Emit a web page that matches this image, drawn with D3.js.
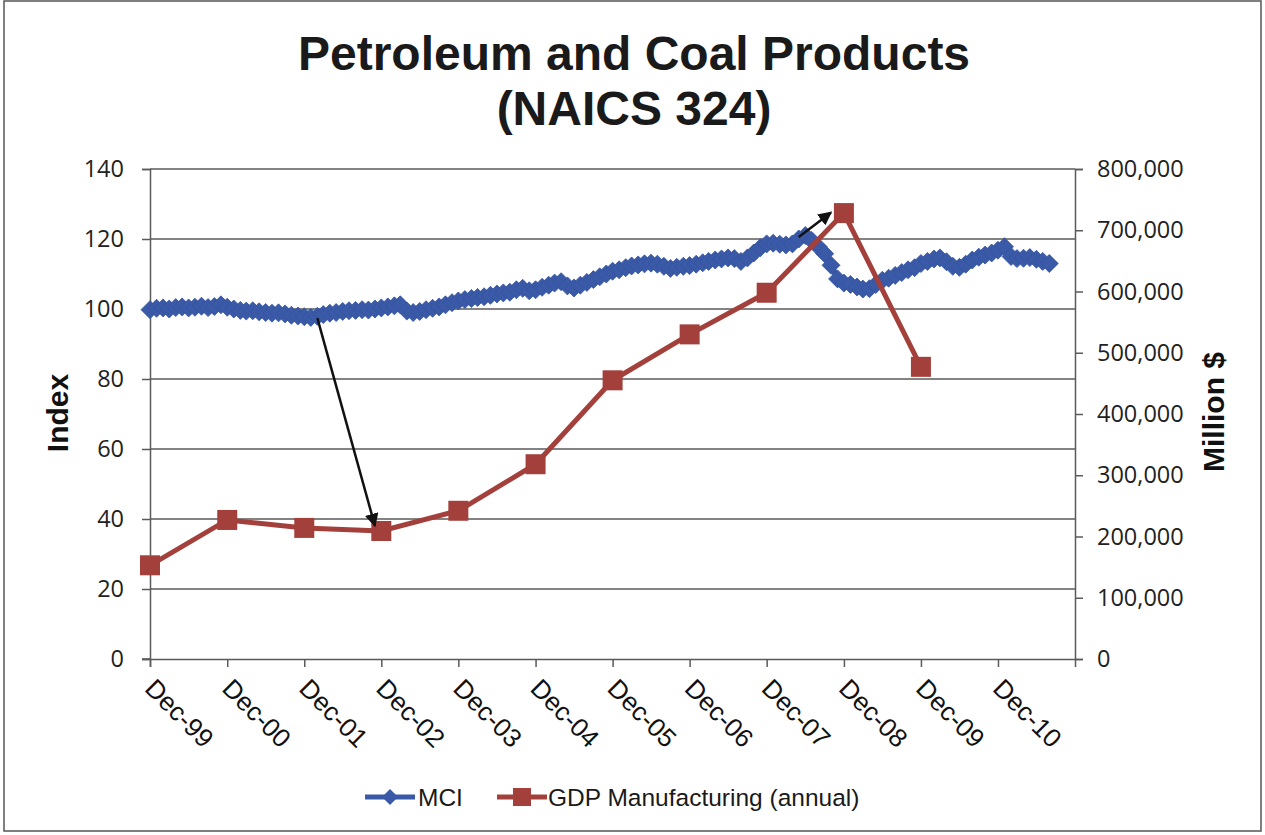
<!DOCTYPE html>
<html>
<head>
    <title>Petroleum and Coal Products</title>
    <meta charset="UTF-8">
    <script type="text/javascript" src="https://cdn.jsdelivr.net/npm/d3@7/dist/d3.min.js"></script>
    <style>
        body { margin: 0; background: #fff; }
        svg { display: block; }
    </style>
</head>
<body>
<svg class="chart" width="1265" height="835"></svg>
<script type="text/javascript">
    // MCI monthly index, Dec-99 .. Aug-11
    var mciStart = "1999-12";
    var mciValues = [
        99.8, 100.2, 100.3, 100.0, 100.4, 100.6, 100.3, 100.5, 100.8, 100.4, 100.7, 101.2,
        100.5, 100.0, 99.6, 99.4, 99.5, 99.2, 99.0, 98.8, 98.9, 98.6, 98.2, 98.0,
        97.8, 97.6, 97.9, 98.4, 98.8, 99.0, 99.3, 99.5, 99.6, 99.8, 99.7, 100.0,
        100.3, 100.6, 100.9, 101.2, 99.4, 99.0, 99.3, 99.8, 100.2, 100.6, 101.2, 101.8,
        102.3, 102.7, 103.0, 103.3, 103.5, 103.9, 104.3, 104.6, 104.8, 105.5, 105.9, 105.2,
        105.5, 106.2, 106.8, 107.4, 107.8, 106.6, 106.0, 106.8, 107.6, 108.4, 109.2, 110.0,
        110.8, 111.2, 111.8, 112.3, 112.6, 112.9, 113.1, 112.8, 112.2, 111.6, 111.9, 112.2,
        112.4, 112.8, 113.2, 113.6, 114.0, 114.3, 114.6, 114.4, 113.6, 114.6, 116.0, 117.5,
        118.6, 118.8, 118.5, 118.3, 118.6, 120.0, 121.0, 119.6, 117.8, 115.8, 112.5, 108.6,
        107.4, 107.0, 106.3, 105.7, 105.8, 107.0, 108.2, 108.8, 109.6, 110.4, 111.2, 111.8,
        113.0, 113.6, 114.3, 114.6, 113.5, 112.2, 111.9, 112.8, 114.0, 114.8, 115.4, 116.0,
        116.8, 117.8, 115.0, 114.4, 114.5, 114.7, 114.2, 113.6, 113.0
    ];

    // GDP manufacturing, annual (million $)
    var gdpDates = ["1999-12", "2000-12", "2001-12", "2002-12", "2003-12", "2004-12",
        "2005-12", "2006-12", "2007-12", "2008-12", "2009-12"];
    var gdpValues = [153000, 227000, 214000, 209000, 242000, 318000,
        455000, 530000, 598000, 728000, 477000];

    // axis ticks
    var xTickDates = ["1999-12", "2000-12", "2001-12", "2002-12", "2003-12", "2004-12",
        "2005-12", "2006-12", "2007-12", "2008-12", "2009-12", "2010-12"];
    var leftTicks = [0, 20, 40, 60, 80, 100, 120, 140];
    var rightTicks = [0, 100000, 200000, 300000, 400000, 500000, 600000, 700000, 800000];

    // annotation arrows: [from date, from index, to date, to index]
    var arrows = [
        ["2002-02", 97.4, "2002-11", 38.0],
        ["2008-05", 120.6, "2008-10", 127.6]
    ];

    var parseMonth = d3.timeParse("%Y-%m");
    var fmtTick = d3.timeFormat("%b-%y");

    var mciDates = d3.timeMonth.range(parseMonth(mciStart),
        d3.timeMonth.offset(parseMonth(mciStart), mciValues.length));
    var mci = mciValues.map(function (v, i) { return {date: mciDates[i], value: v}; });
    var gdp = gdpValues.map(function (v, i) { return {date: parseMonth(gdpDates[i]), value: v}; });

    var blue = "#3A5AA8";
    var red = "#A4403B";
    var plotLeft = 150, plotRight = 1075, plotTop = 169, plotBottom = 659;

    var svg = d3.select(".chart");

    svg.append("rect")
        .attr("x", 4).attr("y", 1)
        .attr("width", 1257).attr("height", 830)
        .attr("fill", "none").attr("stroke", "#555").attr("stroke-width", 1.5);

    var x = d3.scaleTime()
        .domain([parseMonth("1999-12"), parseMonth("2011-12")])
        .range([plotLeft, plotRight]);
    var yLeft = d3.scaleLinear().domain([0, 140]).range([plotBottom, plotTop]);
    var yRight = d3.scaleLinear().domain([0, 800000]).range([plotBottom, plotTop]);

    // title
    svg.append("text")
        .attr("x", 634).attr("y", 70)
        .attr("text-anchor", "middle")
        .style("font", "bold 48px 'Liberation Sans', Arial, sans-serif")
        .attr("fill", "#1a1a1a")
        .text("Petroleum and Coal Products");
    svg.append("text")
        .attr("x", 634).attr("y", 125)
        .attr("text-anchor", "middle")
        .style("font", "bold 48px 'Liberation Sans', Arial, sans-serif")
        .attr("fill", "#1a1a1a")
        .text("(NAICS 324)");

    // gridlines
    svg.append("g")
        .selectAll("line")
        .data(leftTicks.filter(function (d) { return d > 0; }))
        .enter()
        .append("line")
        .attr("x1", plotLeft).attr("x2", plotRight)
        .attr("y1", function (d) { return yLeft(d); })
        .attr("y2", function (d) { return yLeft(d); })
        .attr("stroke", "#5a5a5a").attr("stroke-width", 1.5);

    // left axis
    var leftAxis = svg.append("g")
        .attr("transform", "translate(" + plotLeft + ",0)")
        .call(d3.axisLeft(yLeft).tickValues(leftTicks).tickSize(8).tickPadding(18));
    // right axis
    var rightAxis = svg.append("g")
        .attr("transform", "translate(" + plotRight + ",0)")
        .call(d3.axisRight(yRight).tickValues(rightTicks).tickSize(8).tickPadding(14)
            .tickFormat(d3.format(",")));
    [leftAxis, rightAxis].forEach(function (ax) {
        ax.selectAll("text")
            .style("font", "23.5px 'Open Sans', sans-serif")
            .attr("fill", "#222");
    });

    // bottom axis
    var bottomAxis = svg.append("g")
        .attr("transform", "translate(0," + plotBottom + ")")
        .call(d3.axisBottom(x)
            .tickValues(xTickDates.map(parseMonth))
            .tickSize(8)
            .tickFormat(fmtTick));
    bottomAxis.selectAll("text")
        .attr("text-anchor", "start")
        .attr("dy", 0).attr("y", 0)
        .attr("transform", "translate(-7,31) rotate(45)")
        .style("font", "26px 'Liberation Sans', Arial, sans-serif")
        .attr("fill", "#111");
    bottomAxis.append("line")
        .attr("x1", plotLeft - 8).attr("x2", plotLeft)
        .attr("stroke", "#5a5a5a").attr("stroke-width", 1.5);

    svg.selectAll(".domain, .tick line")
        .attr("stroke", "#5a5a5a").attr("stroke-width", 1.5);

    // axis titles
    svg.append("text")
        .attr("transform", "translate(68,413) rotate(-90)")
        .attr("text-anchor", "middle")
        .style("font", "bold 30px 'Liberation Sans', Arial, sans-serif")
        .attr("fill", "#111")
        .text("Index");
    svg.append("text")
        .attr("transform", "translate(1224,412) rotate(-90)")
        .attr("text-anchor", "middle")
        .style("font", "bold 30px 'Liberation Sans', Arial, sans-serif")
        .attr("fill", "#111")
        .text("Million $");

    function diamondPath(r) {
        return "M0," + (-r) + "L" + r + ",0L0," + r + "L" + (-r) + ",0Z";
    }

    // MCI series
    svg.append("path")
        .datum(mci)
        .attr("fill", "none")
        .attr("stroke", blue)
        .attr("stroke-width", 6)
        .attr("d", d3.line()
            .x(function (d) { return x(d.date); })
            .y(function (d) { return yLeft(d.value); }));
    svg.append("g")
        .selectAll("path")
        .data(mci)
        .enter()
        .append("path")
        .attr("transform", function (d) {
            return "translate(" + x(d.date) + "," + yLeft(d.value) + ")";
        })
        .attr("d", diamondPath(9))
        .attr("fill", blue)
        .attr("stroke", "#3453a0")
        .attr("stroke-width", 0.8);

    // GDP series
    svg.append("path")
        .datum(gdp)
        .attr("fill", "none")
        .attr("stroke", red)
        .attr("stroke-width", 5)
        .attr("d", d3.line()
            .x(function (d) { return x(d.date); })
            .y(function (d) { return yRight(d.value); }));
    svg.append("g")
        .selectAll("rect")
        .data(gdp)
        .enter()
        .append("rect")
        .attr("x", function (d) { return x(d.date) - 10; })
        .attr("y", function (d) { return yRight(d.value) - 10; })
        .attr("width", 20).attr("height", 20)
        .attr("fill", red);

    // arrows
    svg.append("defs").append("marker")
        .attr("id", "arrowhead")
        .attr("viewBox", "0 0 10 10")
        .attr("refX", 9).attr("refY", 5)
        .attr("markerWidth", 5.5).attr("markerHeight", 5.5)
        .attr("orient", "auto")
        .append("path")
        .attr("d", "M0,0L10,5L0,10Z")
        .attr("fill", "#111");
    svg.append("g")
        .selectAll("line")
        .data(arrows)
        .enter()
        .append("line")
        .attr("x1", function (a) { return x(parseMonth(a[0])); })
        .attr("y1", function (a) { return yLeft(a[1]); })
        .attr("x2", function (a) { return x(parseMonth(a[2])); })
        .attr("y2", function (a) { return yLeft(a[3]); })
        .attr("stroke", "#111")
        .attr("stroke-width", 2.5)
        .attr("marker-end", "url(#arrowhead)");

    // legend
    var legend = svg.append("g").attr("transform", "translate(0,797)");
    legend.append("line")
        .attr("x1", 365).attr("x2", 415)
        .attr("stroke", blue).attr("stroke-width", 5);
    legend.append("path")
        .attr("transform", "translate(390,0)")
        .attr("d", diamondPath(8))
        .attr("fill", blue);
    legend.append("text")
        .attr("x", 418).attr("y", 8.5)
        .style("font", "24.5px 'Liberation Sans', Arial, sans-serif")
        .attr("fill", "#1a1a1a")
        .text("MCI");
    legend.append("line")
        .attr("x1", 497).attr("x2", 547)
        .attr("stroke", red).attr("stroke-width", 5);
    legend.append("rect")
        .attr("x", 513).attr("y", -9)
        .attr("width", 18).attr("height", 18)
        .attr("fill", red);
    legend.append("text")
        .attr("x", 548).attr("y", 8.5)
        .style("font", "24.5px 'Liberation Sans', Arial, sans-serif")
        .attr("fill", "#1a1a1a")
        .text("GDP Manufacturing (annual)");
</script>
</body>
</html>
